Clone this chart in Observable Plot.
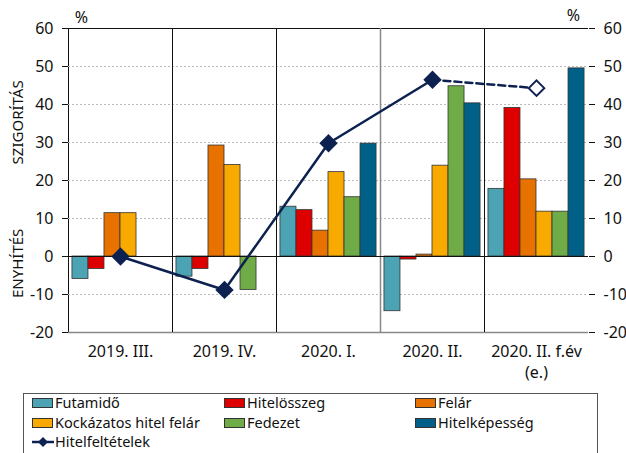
<!DOCTYPE html>
<html><head><meta charset="utf-8">
<script src="https://cdn.jsdelivr.net/npm/d3@7"></script>
<script src="https://cdn.jsdelivr.net/npm/@observablehq/plot@0.6"></script>
<style>
body{margin:0;background:#fff;font-family:"Noto Sans",sans-serif;}
#wrap{position:relative;width:626px;height:453px;overflow:hidden;}
#legend{position:absolute;left:23px;top:393px;width:575px;height:80px;border:1px solid #555;box-sizing:border-box;}
.li{position:absolute;font-size:14.5px;color:#111;white-space:nowrap;line-height:17px;height:17px;}
.sw{display:inline-block;width:19px;height:8px;border:1px solid #333;vertical-align:middle;margin-right:2px;position:relative;top:-1px;}
</style></head>
<body><div id="wrap"><div id="chart"></div><div id="legend"></div></div>
<script>
const categories = ["2019. III.", "2019. IV.", "2020. I.", "2020. II.", "2020. II. f.év\n(e.)"];
const seriesNames = ["Futamidő", "Hitelösszeg", "Felár", "Kockázatos hitel felár", "Fedezet", "Hitelképesség"];
const seriesColors = ["#4BA3B4", "#DE0000", "#E87200", "#F8AA00", "#6FAB47", "#006087"];
const futamido = [-5.9, -5.3, 13.1, -14.4, 17.8];
const hitelosszeg = [-3.3, -3.3, 12.2, -0.8, 39.1];
const felar = [11.4, 29.2, 6.8, 0.5, 20.3];
const kockazatos = [11.4, 24.1, 22.2, 23.9, 11.8];
const fedezet = [0, -8.8, 15.6, 44.8, 11.8];
const hitelkepesseg = [0, 0, 29.7, 40.3, 49.5];
const lineName = "Hitelfeltételek";
const hitelfeltetelek = [0, -8.8, 29.8, 46.5, 44.3];
const yTicks = [-20, -10, 0, 10, 20, 30, 40, 50, 60];
const lineColor = "#0D2150";

const seriesValues = [futamido, hitelosszeg, felar, kockazatos, fedezet, hitelkepesseg];
const pad = 0.038, bw = (1 - 2 * pad) / seriesNames.length;
const bars = [];
categories.forEach((c, i) => seriesNames.forEach((s, j) => {
  bars.push({cat: c, series: s, value: seriesValues[j][i], x1: i + pad + j * bw, x2: i + pad + (j + 1) * bw});
}));
const pts = categories.map((c, i) => ({cat: c, x: i + 0.5, value: hitelfeltetelek[i], est: i === categories.length - 1}));

const plot = Plot.plot({
  width: 626, height: 392,
  marginLeft: 68, marginRight: 38, marginTop: 28, marginBottom: 60,
  style: {fontSize: "16px", fontFamily: "Noto Sans, sans-serif", color: "#111", background: "#fff"},
  x: {type: "linear", domain: [0, categories.length], axis: null},
  y: {domain: [-20, 60], ticks: yTicks, axis: "both", tickSize: 6, tickPadding: 9, label: null, line: true, tickFormat: d => d},
  color: {domain: seriesNames, range: seriesColors},
  marks: [
    Plot.ruleY(yTicks.filter(t => t !== 0 && t !== 60 && t !== -20), {stroke: "#bbb", strokeDasharray: "2,2", strokeWidth: 1}),
    Plot.ruleY([60], {stroke: "#111", strokeWidth: 1}),
    Plot.ruleY([-20], {stroke: "#888", strokeWidth: 1.5}),
    Plot.ruleX(d3.range(1, categories.length), {stroke: d => d === 3 ? "#888" : "#111", strokeWidth: d => d === 3 ? 1.5 : 1}),
    Plot.rectY(bars, {x1: "x1", x2: "x2", y1: 0, y2: "value", fill: "series", stroke: "#333", strokeWidth: 0.8}),
    Plot.ruleY([0], {stroke: "#111", strokeWidth: 1}),
    Plot.line(pts.slice(0, 4), {x: "x", y: "value", stroke: lineColor, strokeWidth: 2.5}),
    Plot.line(pts.slice(3), {x: "x", y: "value", stroke: lineColor, strokeWidth: 2.5, strokeDasharray: "7,4"}),
    Plot.dot(pts, {x: "x", y: "value", symbol: "diamond2", r: 7, fill: d => d.est ? "#fff" : lineColor, stroke: lineColor, strokeWidth: 2}),
    Plot.text(categories, {x: (d, i) => i + 0.5, y: -20, text: d => d, lineAnchor: "top", dy: 10, lineHeight: 1.3, fill: "#111"}),
    Plot.text(["%"], {x: 0, y: 60, dx: 13, dy: -11, fill: "#111"}),
    Plot.text(["%"], {x: categories.length, y: 60, dx: -15, dy: -13, fill: "#111"}),
    Plot.text(["SZIGORÍTÁS"], {x: 0, y: 35.3, dx: -50, rotate: -90, fill: "#111", fontSize: 15}),
    Plot.text(["ENYHÍTÉS"], {x: 0, y: -1.8, dx: -50, rotate: -90, fill: "#111", fontSize: 15})
  ]
});
document.getElementById("chart").appendChild(plot);

const legend = document.getElementById("legend");
const colX = [8, 200, 391];
seriesNames.forEach((s, j) => {
  const d = document.createElement("div");
  d.className = "li";
  d.style.left = colX[j % 3] + "px";
  d.style.top = (0 + Math.floor(j / 3) * 20) + "px";
  d.innerHTML = `<span class="sw" style="background:${seriesColors[j]}"></span>${s}`;
  legend.appendChild(d);
});
const ld = document.createElement("div");
ld.className = "li";
ld.style.left = colX[0] + "px";
ld.style.top = "39px";
ld.innerHTML = `<svg width="22" height="12" style="vertical-align:middle;margin-right:1px;position:relative;top:-1px"><line x1="0" y1="6" x2="22" y2="6" stroke="${lineColor}" stroke-width="2.5"/><path d="M11 1 L16 6 L11 11 L6 6 Z" fill="${lineColor}"/></svg>${lineName}`;
legend.appendChild(ld);
</script>
</body></html>
